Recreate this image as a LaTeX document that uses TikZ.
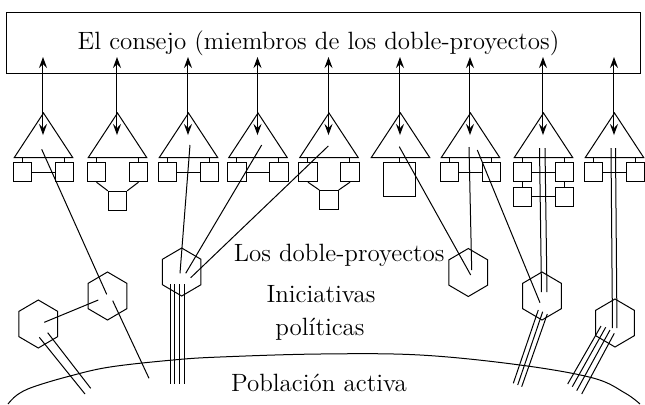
\documentclass[tikz,border=0pt]{standalone}
\usepackage{fontspec}
\usetikzlibrary{arrows.meta}
\begin{document}
\begin{tikzpicture}[x=0.5pt,y=-0.5pt, line width=0.5pt,
  box/.style={draw, inner sep=0pt, minimum width=9.2pt, minimum height=9.5pt},
  bigbox/.style={draw, inner sep=0pt, minimum width=16.2pt, minimum height=16.6pt},
  lbl/.style={font=\fontsize{12.5}{15}\selectfont, inner sep=0pt},
  biarrow/.style={{Stealth[length=5.5pt,width=4pt,inset=2pt]}-{Stealth[length=5.5pt,width=4pt,inset=2pt]}},
  hexa/.pic={\draw (0,-24) -- (19.3,-12.7) -- (19.3,12.7) -- (0,24) -- (-19.3,12.7) -- (-19.3,-12.7) -- cycle;}]
\useasboundingbox (0,0) rectangle (645,404);

% council
\node[draw, inner sep=0pt, minimum width=317pt, minimum height=30.5pt] (council) at (324,42.5) {};
\node[lbl, anchor=base] (title) at (318.5,49) {El consejo (miembros de los doble-proyectos)};

% triangles and arrows
\foreach \i/\c in {1/43.5,2/117.5,3/188.5,4/258,5/329,6/400.5,7/470.5,8/543.5,9/614.5} {
  \draw (\c,113) -- (\c+29.2,157.5) -- (\c-29.2,157.5) -- cycle;
  \coordinate (top\i) at (\c-0.5,57);
  \coordinate (in\i) at (\c-0.5,135);
  \draw[biarrow] (top\i) -- (in\i);
}

% two-box groups
\foreach \i/\c in {1/43.5,2/117.5,3/188.5,4/258,5/329,7/470.5,8/543.5,9/614.5} {
  \node[box] (bl\i) at (\c-21,172.2) {};
  \node[box] (br\i) at (\c+21,172.2) {};
  \draw (bl\i.north) -- ++(0,-5);
  \draw (br\i.north) -- ++(0,-5);
}
\foreach \i in {1,3,4,7,8,9} { \draw (bl\i) -- (br\i); }

\node[box] (bb2) at (117.5,200.8) {};
\draw (bl2.south) -- (bb2.north west);
\draw (br2.south) -- (bb2.north east);
\node[box] (bb5) at (329,200) {};
\draw (bl5.south) -- (bb5.north west);
\draw (br5.south) -- (bb5.north east);

\node[box] (bll8) at (522.5,196.7) {};
\node[box] (brr8) at (564.5,196.7) {};
\draw (bl8) -- (bll8);
\draw (br8) -- (brr8);
\draw (bll8) -- (brr8);

\node[bigbox] (big6) at (399.5,179.4) {};
\draw (big6.north) -- ++(0,-5);

% hexagons
\pic at (38.3,324) {hexa};
\pic at (107.5,296) {hexa};
\pic at (181.7,272) {hexa};
\pic at (468.3,272.5) {hexa};
\pic at (542,296) {hexa};
\pic at (615,323) {hexa};

% lines from triangles to hexagons
\draw (41.7,149.3) -- (106.7,294.3);
\draw (190,145) -- (180,273.3);
\draw (261.7,145) -- (185.7,273.3);
\draw (328.3,146) -- (190.7,277.7);
\draw (399.3,146.7) -- (470.7,275);
\draw (469,147) -- (471.7,270);
\draw (477.3,150) -- (540,302.7);
\draw (539.5,148) -- (541.5,292);
\draw (545,148) -- (547,292);
\draw (611,148) -- (612.5,328);
\draw (615.5,148) -- (617,328);

% hexagon links and lines to the population
\draw (44.3,322.3) -- (98.3,300);
\draw (39.3,337.3) -- (85,394);
\draw (47.7,332.7) -- (90.7,388.3);
\draw (112.7,300.7) -- (149,378.3);
\foreach \x in {170.7,175,180,184.3} { \draw (\x,284) -- (\x,383.5); }
\draw (538.3,310) -- (513.3,383.3);
\draw (542.7,311.7) -- (517.7,385);
\draw (547.3,314) -- (521.7,386.7);
\draw (601,326) -- (567.7,384);
\draw (605.7,327.3) -- (572.3,386.7);
\draw (610,330) -- (576.7,390.7);
\draw (614.3,333.3) -- (581.7,394);

% population boundary
\draw plot[smooth, tension=0.6] coordinates {(8,404) (17,395) (33,387) (70,376) (110,367) (173,360) (220,357) (320,354) (420,355) (520,365) (593,378) (625,393) (640,404)};

% labels
\node[lbl, anchor=base west] (ldp) at (233.3,261.7) {Los doble-proyectos};
\node[lbl, anchor=base] (lini) at (321,302) {Iniciativas};
\node[lbl, anchor=base] (lpol) at (320,335) {políticas};
\node[lbl, anchor=base] (lpop) at (319,391.7) {Población activa};
\end{tikzpicture}
\end{document}
